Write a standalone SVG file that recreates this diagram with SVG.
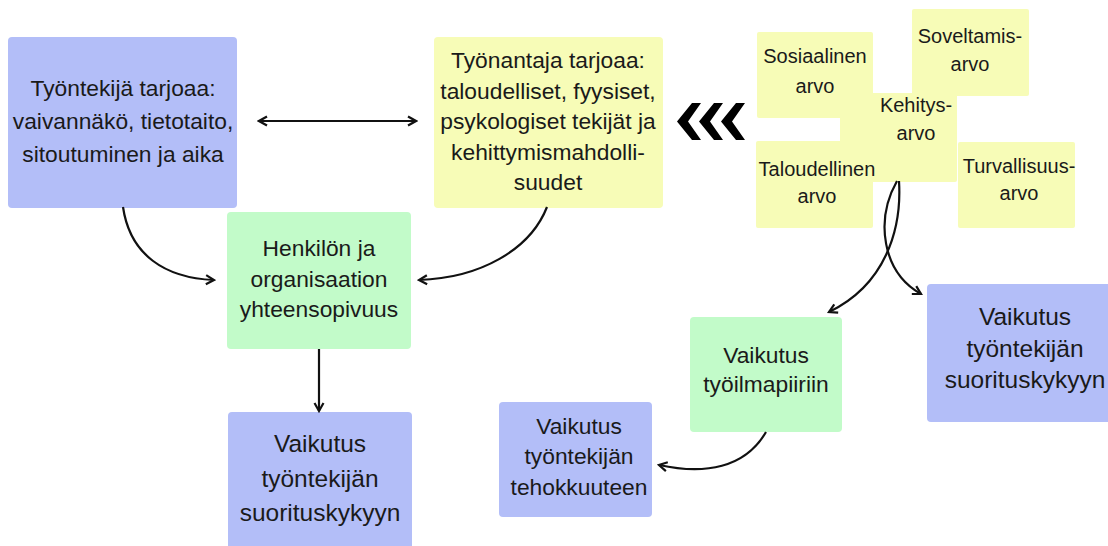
<svg xmlns="http://www.w3.org/2000/svg" width="1108" height="546" viewBox="0 0 1108 546">
<defs>
<marker id="ah" viewBox="0 0 12 12" refX="10" refY="6" markerWidth="12" markerHeight="12" markerUnits="userSpaceOnUse" orient="auto-start-reverse">
<path d="M2,1.5 L10,6 L2,10.5" fill="none" stroke="#111" stroke-width="2.2" stroke-linejoin="miter"/>
</marker>
</defs>
<style>
.blue{fill:#b3bef8}
.yel{fill:#f7fcb7}
.grn{fill:#c2fbc9}
text{font-family:"Liberation Sans",Arial,sans-serif;fill:#1a1a1a;text-anchor:middle}
.t22{font-size:22.8px}
.t24{font-size:24.5px}
.t19{font-size:20px}
.conn path,.conn line{fill:none;stroke:#111;stroke-width:2.2;marker-end:url(#ah)}
</style>
<rect width="1108" height="546" fill="#ffffff"/>

<g id="tyontekija">
<rect class="blue" x="8" y="37" width="229" height="171" rx="4"/>
<text class="t22" x="123" y="96">Työntekijä tarjoaa:</text>
<text class="t22" x="123" y="129">vaivannäkö, tietotaito,</text>
<text class="t22" x="123" y="162">sitoutuminen ja aika</text>
</g>

<g id="tyonantaja">
<rect class="yel" x="434" y="37" width="229" height="171" rx="4"/>
<text class="t22" x="548" y="68">Työnantaja tarjoaa:</text>
<text class="t22" x="548" y="98.5">taloudelliset, fyysiset,</text>
<text class="t22" x="548" y="129">psykologiset tekijät ja</text>
<text class="t22" x="548" y="159.5">kehittymismahdolli-</text>
<text class="t22" x="548" y="190">suudet</text>
</g>

<g id="arvot">
<rect class="yel" x="757" y="32" width="116" height="86" rx="2"/>
<rect class="yel" x="912" y="9" width="117" height="87" rx="2"/>
<rect class="yel" x="756" y="141" width="117" height="87" rx="2"/>
<rect class="yel" x="840" y="93" width="117" height="89" rx="2"/>
<rect class="yel" x="958" y="142" width="117" height="86" rx="2"/>
<text class="t19" x="815" y="63">Sosiaalinen</text>
<text class="t19" x="815" y="93">arvo</text>
<text class="t19" x="970" y="43">Soveltamis-</text>
<text class="t19" x="970" y="71">arvo</text>
<text class="t19" x="916" y="112">Kehitys-</text>
<text class="t19" x="916" y="140">arvo</text>
<text class="t19" x="817" y="176">Taloudellinen</text>
<text class="t19" x="817" y="203">arvo</text>
<text class="t19" x="1019" y="173">Turvallisuus-</text>
<text class="t19" x="1019" y="200">arvo</text>
</g>

<g id="chevrons" fill="#000">
<polygon points="677,121.5 692,103 701,103 688,121.5 701,140 692,140"/>
<polygon points="699,121.5 714,103 723,103 710,121.5 723,140 714,140"/>
<polygon points="721,121.5 736,103 745,103 732,121.5 745,140 736,140"/>
</g>

<g id="yhteensopivuus">
<rect class="grn" x="227" y="212" width="184" height="137" rx="4"/>
<text class="t22" x="319" y="256">Henkilön ja</text>
<text class="t22" x="319" y="287">organisaation</text>
<text class="t22" x="319" y="317">yhteensopivuus</text>
</g>

<g id="suorituskyky1">
<rect class="blue" x="228" y="412" width="184" height="150" rx="4"/>
<text class="t24" x="320" y="452">Vaikutus</text>
<text class="t24" x="320" y="487">työntekijän</text>
<text class="t24" x="320" y="521">suorituskykyyn</text>
</g>

<g id="tyoilmapiiri">
<rect class="grn" x="690" y="317" width="152" height="115" rx="4"/>
<text class="t22" x="766" y="363">Vaikutus</text>
<text class="t22" x="766" y="392">työilmapiiriin</text>
</g>

<g id="tehokkuus">
<rect class="blue" x="499" y="402" width="153" height="115" rx="4"/>
<text class="t22" x="579" y="434">Vaikutus</text>
<text class="t22" x="579" y="464">työntekijän</text>
<text class="t22" x="579" y="495">tehokkuuteen</text>
</g>

<g id="suorituskyky2">
<rect class="blue" x="927" y="284" width="190" height="138" rx="4"/>
<text class="t24" x="1025" y="325">Vaikutus</text>
<text class="t24" x="1025" y="357">työntekijän</text>
<text class="t24" x="1025" y="388">suorituskykyyn</text>
</g>

<g id="connectors" class="conn">
<line x1="259" y1="121" x2="416" y2="121" style="marker-start:url(#ah)"/>
<path d="M123,207 C130,255 165,278 214,280"/>
<path d="M547,207 C530,250 480,278 419,280"/>
<path d="M319,349 L319,411"/>
<path d="M899,181 C902,230 885,285 829,312"/>
<path d="M897,181 C875,220 882,272 921,294"/>
<path d="M766,432 C745,468 705,475 659,465"/>
</g>
</svg>
